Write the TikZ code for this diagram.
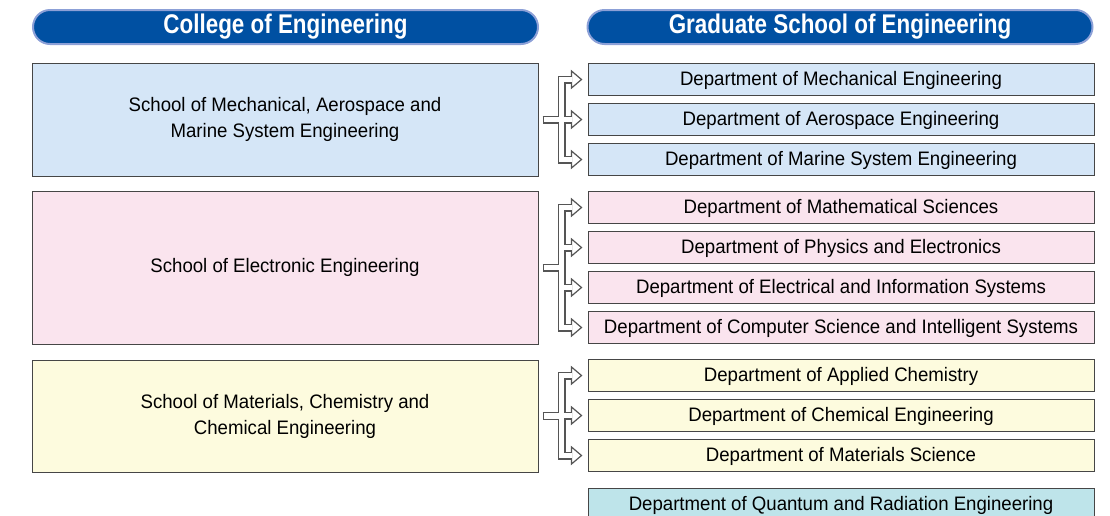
\documentclass[tikz,border=0pt]{standalone}
\usepackage{fontspec}
\setmainfont{Liberation Sans}
\newfontfamily\headfont[FakeStretch=0.83]{Liberation Sans}
\newfontfamily\bodyfont[FakeStretch=0.955]{Liberation Sans}
\usetikzlibrary{calc}
\definecolor{hblue}{RGB}{0,80,162}
\definecolor{hedge}{RGB}{140,160,215}
\definecolor{cblue}{RGB}{213,230,247}
\definecolor{cpink}{RGB}{250,228,238}
\definecolor{cyell}{RGB}{253,251,222}
\definecolor{ccyan}{RGB}{190,228,234}
\definecolor{bord}{RGB}{70,70,70}
\definecolor{conn}{RGB}{85,85,85}
\tikzset{
  header/.style={draw=hedge, line width=2pt, fill=hblue, rounded corners=17pt,
    minimum width=505pt, minimum height=34pt, inner sep=0pt,
    text=white, font=\headfont\bfseries\fontsize{27}{30}\selectfont},
  school/.style={draw=bord, line width=1pt, minimum width=506pt, inner sep=0pt,
    align=center, font=\bodyfont\fontsize{19.5}{26}\selectfont},
  dept/.style={draw=bord, line width=1pt, minimum width=506pt, minimum height=32pt,
    inner sep=0pt, text height=16pt, text depth=4pt, font=\bodyfont\fontsize{19.5}{22}\selectfont},
  outer/.style={draw=conn, line width=8pt, line join=miter},
  inner/.style={draw=white, line width=5.4pt, line join=miter},
  head/.style={draw=conn, line width=1.2pt, fill=white, line join=miter},
}
\begin{document}
\begin{tikzpicture}[x=1pt,y=-1pt]
\useasboundingbox (0,0) rectangle (1110,515);
\node[header] (H1) at (285.5,27) {College of Engineering};
\node[header] (H2) at (840,27) {Graduate School of Engineering};

\node[school, fill=cblue, minimum height=113pt] (L1) at (285,119.5)
  {School of Mechanical, Aerospace and\\Marine System Engineering};
\node[school, fill=cpink, minimum height=153pt] (L2) at (285,267.5)
  {School of Electronic Engineering};
\node[school, fill=cyell, minimum height=112pt] (L3) at (285,416)
  {School of Materials, Chemistry and\\Chemical Engineering};

\node[dept, fill=cblue] (R1) at (841,79.5) {Department of Mechanical Engineering};
\node[dept, fill=cblue] (R2) at (841,119.5) {Department of Aerospace Engineering};
\node[dept, fill=cblue] (R3) at (841,159.5) {Department of Marine System Engineering};
\node[dept, fill=cpink] (R4) at (841,207.5) {Department of Mathematical Sciences};
\node[dept, fill=cpink] (R5) at (841,247.5) {Department of Physics and Electronics};
\node[dept, fill=cpink] (R6) at (841,287.5) {Department of Electrical and Information Systems};
\node[dept, fill=cpink] (R7) at (841,327.5) {Department of Computer Science and Intelligent Systems};
\node[dept, fill=cyell] (R8) at (841,375.5) {Department of Applied Chemistry};
\node[dept, fill=cyell] (R9) at (841,415.5) {Department of Chemical Engineering};
\node[dept, fill=cyell] (R10) at (841,455.5) {Department of Materials Science};
\node[dept, fill=ccyan] (R11) at (841,504) {Department of Quantum and Radiation Engineering};

% connector trees
\newcommand{\ArrowTree}[4]{% #1 source, #2 first target, #3 last target, #4 middle targets
  \coordinate (t#1) at ($(#1.east)+(23,0)$);
  \draw[outer] ($(#1.east)+(4,0)$) -- (t#1);
  \draw[outer] ($(#2.west)+(-14,0)$) -- (t#1|-#2.west) -- (t#1|-#3.west) -- ($(#3.west)+(-14,0)$);
  \foreach \m in {#4} {\draw[outer] (t#1|-\m.west) -- ($(\m.west)+(-14,0)$);}
  \foreach \m in {#2,#3,#4} {\draw[head] ($(\m.west)+(-6,0)$) -- ++(-10,-8.5) -- ++(0,17) -- cycle;}
  \draw[inner] ($(#1.east)+(5.3,0)$) -- (t#1);
  \draw[inner] ($(#2.west)+(-15.4,0)$) -- (t#1|-#2.west) -- (t#1|-#3.west) -- ($(#3.west)+(-15.4,0)$);
  \foreach \m in {#4} {\draw[inner] (t#1|-\m.west) -- ($(\m.west)+(-15.4,0)$);}
}
\ArrowTree{L1}{R1}{R3}{R2}
\ArrowTree{L2}{R4}{R7}{R5,R6}
\ArrowTree{L3}{R8}{R10}{R9}
\end{tikzpicture}
\end{document}
